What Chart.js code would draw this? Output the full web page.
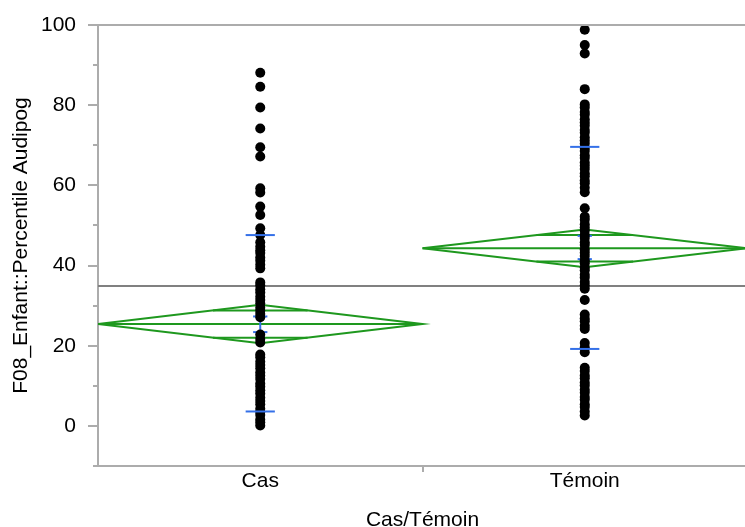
<!DOCTYPE html>
<html>
<head>
<meta charset="utf-8">
<script src="https://cdn.jsdelivr.net/npm/chart.js@4"></script>
<style>
  html, body { margin: 0; padding: 0; overflow: hidden; background: #fff; }
</style>
</head>
<body>
<canvas id="chart" width="752" height="545"></canvas>
<script>
// values
const categories = ['Cas', 'Témoin']
const casValues = [88.1, 84.6, 79.4, 74.2, 69.5, 67.2, 59.3, 58.2, 54.7, 52.6, 49.3, 47.6,
  45.8, 44.7, 43.8, 43.1, 42.0, 41.2, 40.2, 39.3,
  35.8, 35.1, 34.1, 33.3, 32.2, 31.4, 30.6, 29.5, 28.7, 27.9, 27.1,
  22.8, 21.7, 20.8,
  17.8, 17.1, 16.0, 15.2, 14.4, 13.3, 12.5, 11.7, 10.6, 9.8, 8.9, 8.1, 7.0, 6.2, 5.4, 4.3, 3.5, 2.7, 1.6, 0.9, 0.1]
const temoinValues = [98.8, 95.0, 92.9, 84.0,
  80.2, 79.4, 78.3, 77.6, 76.5, 75.7, 74.9, 73.8, 73.1, 72.0, 71.2, 70.4, 69.3, 68.6, 67.5, 66.8, 65.7, 64.9, 64.1, 63.0, 62.3, 61.2, 60.5, 59.4, 58.3,
  54.3, 52.2, 51.4, 50.3, 49.5, 48.7, 47.6, 46.9, 45.8, 45.1, 44.0, 43.2, 42.4, 41.3, 40.6, 39.5, 38.8, 37.7, 37.0, 35.9, 35.1, 34.2,
  31.4,
  27.8, 26.8, 26.1, 25.0, 24.2,
  20.7, 19.6, 18.4,
  14.5, 13.7, 12.6, 11.9, 10.8, 10.1, 9.0, 8.3, 7.2, 6.5, 5.4, 4.7, 3.6, 2.6]
const groupValues = [casValues, temoinValues]

const groupMeans = [25.4, 44.3]
const ciLow = [20.6, 39.6]
const ciHigh = [30.2, 49.0]
const overlapLow = [22.0, 41.0]
const overlapHigh = [28.8, 47.6]
const sdLow = [3.6, 19.2]
const sdHigh = [47.6, 69.6]
const seLow = [23.4, 41.6]
const seHigh = [27.3, 47.4]
const grandMean = 34.9

const yLabelTicks = [0, 20, 40, 60, 80, 100]
const yMinorTicks = [-10, 10, 30, 50, 70, 90]

const green = 'rgb(30, 152, 30)'
const blue = 'rgb(52, 112, 232)'
const axisGray = 'rgb(172, 172, 172)'

Chart.defaults.font.family = '"Liberation Sans", Arial, Helvetica, sans-serif'
Chart.defaults.font.size = 21
Chart.defaults.color = '#000'

function segment(points, color, order) {
  return {
    data: points,
    showLine: true,
    borderColor: color,
    borderWidth: 2,
    pointRadius: 0,
    fill: false,
    order: order
  }
}

let datasets = []
datasets.push(segment([{ x: 0, y: grandMean }, { x: categories.length, y: grandMean }], 'rgb(128, 128, 128)', 4))

categories.forEach((cat, i) => {
  const mid = i + 0.5
  const m = groupMeans[i]
  // means diamond
  datasets.push(segment([
    { x: i, y: m }, { x: mid, y: ciHigh[i] }, { x: i + 1, y: m }, { x: mid, y: ciLow[i] }, { x: i, y: m }
  ], green, 3))
  datasets.push(segment([{ x: i, y: m }, { x: i + 1, y: m }], green, 3))
  // overlap marks, inside the diamond
  let up = 0.5 * (1 - (overlapHigh[i] - m) / (ciHigh[i] - m))
  let down = 0.5 * (1 - (m - overlapLow[i]) / (m - ciLow[i]))
  datasets.push(segment([{ x: mid - up, y: overlapHigh[i] }, { x: mid + up, y: overlapHigh[i] }], green, 3))
  datasets.push(segment([{ x: mid - down, y: overlapLow[i] }, { x: mid + down, y: overlapLow[i] }], green, 3))

  // std error marks sit under the points
  datasets.push(segment([{ x: mid - 0.022, y: seHigh[i] }, { x: mid + 0.022, y: seHigh[i] }], blue, 2))
  datasets.push(segment([{ x: mid - 0.022, y: seLow[i] }, { x: mid + 0.022, y: seLow[i] }], blue, 2))
  datasets.push(segment([{ x: mid, y: seLow[i] }, { x: mid, y: seHigh[i] }], blue, 2))

  datasets.push({
    data: groupValues[i].map(v => ({ x: mid, y: v })),
    pointRadius: 5,
    pointBackgroundColor: '#000',
    pointBorderWidth: 0,
    showLine: false,
    order: 1
  })

  // std dev marks on top
  datasets.push(segment([{ x: mid - 0.045, y: sdHigh[i] }, { x: mid + 0.045, y: sdHigh[i] }], blue, 0))
  datasets.push(segment([{ x: mid - 0.045, y: sdLow[i] }, { x: mid + 0.045, y: sdLow[i] }], blue, 0))
})

const axisMarks = {
  id: 'axisMarks',
  afterDraw(chart) {
    const ctx = chart.ctx
    const area = chart.chartArea
    const y = chart.scales.y
    const x = chart.scales.x
    ctx.save()
    ctx.strokeStyle = axisGray
    ctx.lineWidth = 2
    ctx.beginPath()
    yLabelTicks.forEach(v => {
      const p = Math.round(y.getPixelForValue(v))
      ctx.moveTo(area.left - 10, p)
      ctx.lineTo(area.left, p)
    })
    yMinorTicks.forEach(v => {
      const p = Math.round(y.getPixelForValue(v))
      ctx.moveTo(area.left - 5, p)
      ctx.lineTo(area.left, p)
    })
    // top frame line
    ctx.moveTo(area.left, area.top)
    ctx.lineTo(area.right, area.top)
    // divider between the groups
    for (let i = 1; i < categories.length; i++) {
      const p = Math.round(x.getPixelForValue(i))
      ctx.moveTo(p, area.bottom)
      ctx.lineTo(p, area.bottom + 6)
    }
    ctx.stroke()
    ctx.restore()
  }
}

new Chart(document.getElementById('chart'), {
  type: 'scatter',
  data: { datasets: datasets },
  options: {
    responsive: false,
    animation: false,
    layout: { padding: { top: 25, right: 0, left: 0, bottom: 0 } },
    plugins: {
      legend: { display: false },
      tooltip: { enabled: false }
    },
    scales: {
      x: {
        type: 'linear',
        min: 0,
        max: categories.length,
        afterBuildTicks: (scale) => {
          scale.ticks = categories.map((c, i) => ({ value: i + 0.5 }))
        },
        afterFit: (scale) => { scale.height = 79 },
        ticks: {
          autoSkip: false,
          maxRotation: 0,
          padding: 3,
          callback: (v) => categories[Math.floor(v)]
        },
        grid: { display: false, drawTicks: false },
        border: { color: axisGray, width: 2 },
        title: {
          display: true,
          text: 'Cas/Témoin',
          padding: { top: 0, bottom: 12 }
        }
      },
      y: {
        min: -10,
        max: 100,
        afterBuildTicks: (scale) => {
          scale.ticks = yLabelTicks.map(v => ({ value: v }))
        },
        afterFit: (scale) => { scale.width = 98 },
        ticks: { padding: 0 },
        // tick marks are drawn by the plugin, tickLength only spaces the labels
        grid: { display: false, drawTicks: true, tickLength: 22 },
        border: { color: axisGray, width: 2 },
        title: {
          display: true,
          text: 'F08_Enfant::Percentile Audipog',
          padding: { top: 9, bottom: 0 }
        }
      }
    }
  },
  plugins: [axisMarks]
})
</script>
</body>
</html>
